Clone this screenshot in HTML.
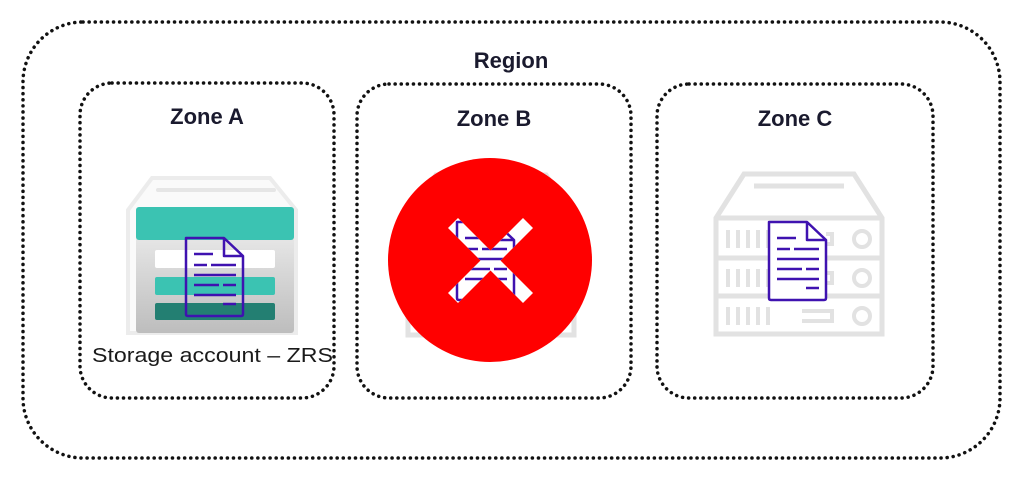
<!DOCTYPE html>
<html><head><style>
body{margin:0;background:#fff;width:1021px;height:478px;overflow:hidden}
svg{display:block}
text{font-family:"Liberation Sans",sans-serif}
</style></head><body>
<svg width="1021" height="478" viewBox="0 0 1021 478">
<defs>
<g id="doc">
 <path d="M0 0 H38 L57 18 V76 Q57 78 55 78 H2 Q0 78 0 76 Z M38 0 V18 H57" fill="none" stroke="#3f12b0" stroke-width="2.5" stroke-linejoin="round"/>
 <g stroke="#3f12b0" stroke-width="2.5">
  <line x1="8" y1="16" x2="27" y2="16"/>
  <line x1="8" y1="27" x2="21" y2="27"/><line x1="25" y1="27" x2="50" y2="27"/>
  <line x1="8" y1="37" x2="50" y2="37"/>
  <line x1="8" y1="47" x2="33" y2="47"/><line x1="37" y1="47" x2="50" y2="47"/>
  <line x1="8" y1="57" x2="50" y2="57"/>
  <line x1="37" y1="66" x2="50" y2="66"/>
 </g>
</g>
<g id="server" fill="none" stroke="#e2e2e2" stroke-width="5">
 <path d="M30 0 H140 L168 44 V160 H2 V44 Z"/>
 <line x1="2" y1="44" x2="168" y2="44"/>
 <line x1="2" y1="84" x2="168" y2="84"/>
 <line x1="2" y1="122" x2="168" y2="122"/>
 <line x1="40" y1="12" x2="130" y2="12"/>
 <g stroke-width="4">
  <path d="M14 56v18M24 56v18M34 56v18M44 56v18M54 56v18"/>
  <path d="M14 95v18M24 95v18M34 95v18M44 95v18M54 95v18"/>
  <path d="M14 133v18M24 133v18M34 133v18M44 133v18M54 133v18"/>
  <circle cx="148" cy="65" r="8"/><circle cx="148" cy="104" r="8"/><circle cx="148" cy="142" r="8"/>
  <path d="M88 60h30v10h-30"/><path d="M88 99h30v10h-30"/><path d="M88 137h30v10h-30"/>
 </g>
</g>
<clipPath id="xclip"><path d="M448 228 L458 218 L490.5 250.5 L523 218 L533 228 L500.5 260.5 L533 293 L523 303 L490.5 270.5 L458 303 L448 293 L480.5 260.5 Z"/></clipPath>
<linearGradient id="g1" x1="0" y1="0" x2="0" y2="1"><stop offset="0" stop-color="#f3f3f3"/><stop offset="1" stop-color="#bdbdbd"/></linearGradient>
</defs>

<rect x="23" y="22" width="977" height="436" rx="60" fill="none" stroke="#111" stroke-width="3.5" stroke-dasharray="0.1 6" stroke-linecap="round"/>
<text x="511" y="68" font-size="22" font-weight="bold" fill="#1a1a2e" text-anchor="middle">Region</text>

<rect x="80" y="83" width="254" height="315" rx="32" fill="none" stroke="#111" stroke-width="3.5" stroke-dasharray="0.1 6" stroke-linecap="round"/>
<rect x="357" y="84" width="274" height="314" rx="32" fill="none" stroke="#111" stroke-width="3.5" stroke-dasharray="0.1 6" stroke-linecap="round"/>
<rect x="657" y="84" width="276" height="314" rx="32" fill="none" stroke="#111" stroke-width="3.5" stroke-dasharray="0.1 6" stroke-linecap="round"/>

<text x="207" y="124" font-size="22" font-weight="bold" fill="#1a1a2e" text-anchor="middle">Zone A</text>
<text x="494" y="126" font-size="22" font-weight="bold" fill="#1a1a2e" text-anchor="middle">Zone B</text>
<text x="795" y="126" font-size="22" font-weight="bold" fill="#1a1a2e" text-anchor="middle">Zone C</text>

<!-- Storage A -->
<path d="M152 178 H270 L296 210 V333 H128 V210 Z" fill="#fafafa" stroke="#ececec" stroke-width="4"/>
<line x1="158" y1="190" x2="274" y2="190" stroke="#e6e6e6" stroke-width="4" stroke-linecap="round"/>
<rect x="136" y="207" width="158" height="126" rx="3" fill="url(#g1)"/>
<rect x="136" y="207" width="158" height="33" rx="3" fill="#3bc3b2"/>
<rect x="155" y="250" width="120" height="18" rx="2" fill="#fff"/>
<rect x="155" y="277" width="120" height="18" rx="2" fill="#3bc3b2"/>
<rect x="155" y="303" width="120" height="17" rx="2" fill="#237f72"/>
<use href="#doc" x="186" y="238"/>
<text x="92" y="362" font-size="20" fill="#1a1a1a" textLength="241" lengthAdjust="spacingAndGlyphs">Storage account – ZRS</text>

<!-- Zone B -->
<use href="#server" x="406" y="175"/>
<circle cx="490" cy="260" r="102" fill="#ff0000"/>
<g clip-path="url(#xclip)">
 <rect x="440" y="210" width="100" height="100" fill="#fff"/>
 <use href="#doc" x="457" y="222"/>
</g>

<!-- Zone C -->
<use href="#server" x="714" y="174"/>
<rect x="769" y="222" width="57" height="78" fill="#fff"/>
<use href="#doc" x="769" y="222"/>
</svg>
</body></html>
